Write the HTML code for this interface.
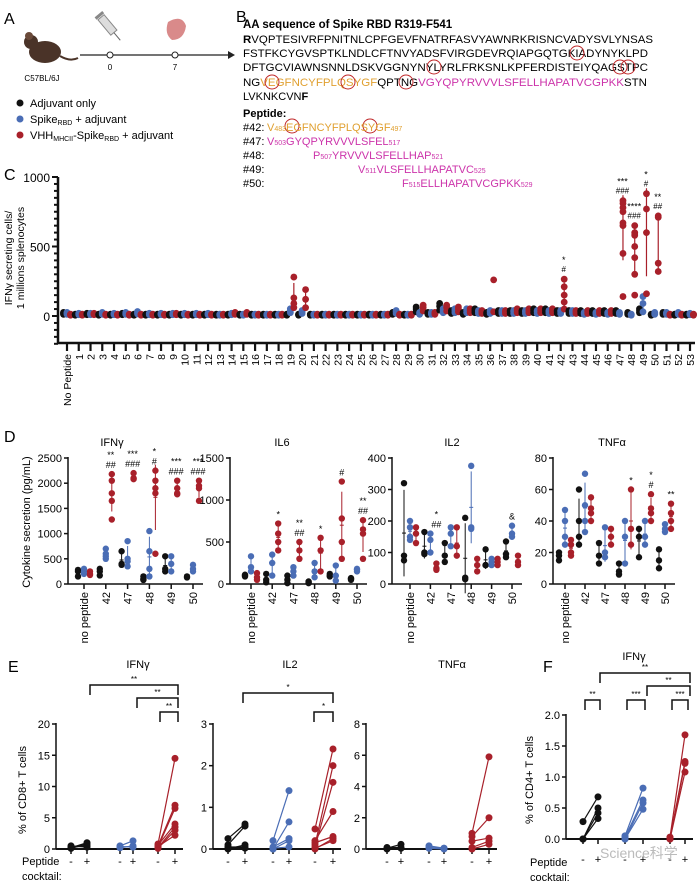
<!DOCTYPE html>
<html><head><meta charset="utf-8">
<style>
body{margin:0;background:#fff;}
svg{display:block;font-family:"Liberation Sans",Arial,sans-serif;}
</style></head>
<body>
<svg id="fig" width="700" height="884" viewBox="0 0 700 884" xmlns="http://www.w3.org/2000/svg">
<rect width="700" height="884" fill="#fff"/>
<!-- Panel A -->
<g>
<text x="4" y="24" font-size="16">A</text>
<g>
<ellipse cx="45" cy="52" rx="16" ry="11" fill="#4a3328"/>
<circle cx="31" cy="42" r="7" fill="#4a3328"/>
<circle cx="29" cy="36" r="4" fill="#6a4a3a"/>
<path d="M60 56 Q70 62 78 58" stroke="#4a3328" stroke-width="2" fill="none"/>
</g>
<text x="42" y="81" font-size="8" text-anchor="middle">C57BL/6J</text>
<line x1="80" y1="55" x2="228" y2="55" stroke="#222" stroke-width="1.2"/>
<path d="M228 51 L235 55 L228 59 Z" fill="#222"/>
<circle cx="110" cy="55" r="3" fill="#fff" stroke="#222"/>
<circle cx="175" cy="55" r="3" fill="#fff" stroke="#222"/>
<text x="110" y="70" font-size="8" text-anchor="middle">0</text>
<text x="175" y="70" font-size="8" text-anchor="middle">7</text>
<g transform="translate(110,28) rotate(-40)">
<rect x="-4" y="-14" width="8" height="20" fill="#ddd" stroke="#888"/>
<line x1="0" y1="6" x2="0" y2="16" stroke="#666"/>
<rect x="-5" y="-18" width="10" height="3" fill="#888"/>
</g>
<path d="M168 22 Q182 14 186 26 Q184 40 172 40 Q164 34 168 22Z" fill="#d98a8a"/>
<g font-size="11">
<circle cx="20" cy="103" r="3.5" fill="#111"/>
<text x="30" y="107">Adjuvant only</text>
<circle cx="20" cy="119" r="3.5" fill="#4a6db5"/>
<text x="30" y="123">Spike<tspan font-size="7" dy="2">RBD</tspan><tspan dy="-2"> + adjuvant</tspan></text>
<circle cx="20" cy="135" r="3.5" fill="#a8202a"/>
<text x="30" y="139">VHH<tspan font-size="7" dy="2">MHCII</tspan><tspan dy="-2">-Spike</tspan><tspan font-size="7" dy="2">RBD</tspan><tspan dy="-2"> + adjuvant</tspan></text>
</g>
</g>
<!-- Panel B -->
<g font-size="11">
<text x="236" y="22" font-size="16">B</text>
<text x="243" y="28" font-weight="bold" font-size="11.5">AA sequence of Spike RBD R319-F541</text>
<text x="243" y="43" textLength="410" lengthAdjust="spacingAndGlyphs"><tspan font-weight="bold">R</tspan>VQPTESIVRFPNITNLCPFGEVFNATRFASVYAWNRKRISNCVADYSVLYNSAS</text>
<text x="243" y="57" textLength="405" lengthAdjust="spacingAndGlyphs">FSTFKCYGVSPTKLNDLCFTNVYADSFVIRGDEVRQIAPGQTGKIADYNYKLPD</text>
<text x="243" y="71" textLength="405" lengthAdjust="spacingAndGlyphs">DFTGCVIAWNSNNLDSKVGGNYNYLYRLFRKSNLKPFERDISTEIYQAGSTPC</text>
<text x="243" y="86" textLength="404" lengthAdjust="spacingAndGlyphs">NG<tspan fill="#e0a030">VEGFNCYFPLQSYGF</tspan>QPTNG<tspan fill="#cc33aa">VGYQPYRVVVLSFELLHAPATVCGPKK</tspan>STN</text>
<text x="243" y="100">LVKNKCVN<tspan font-weight="bold">F</tspan></text>
<g fill="none" stroke="#c0282a" stroke-width="1">
<circle cx="577" cy="53" r="7"/><circle cx="434" cy="67" r="7"/><circle cx="620" cy="67" r="7"/><circle cx="628" cy="67" r="7"/>
<circle cx="272" cy="82" r="7"/><circle cx="348" cy="82" r="7"/><circle cx="406" cy="82" r="7"/>
<circle cx="292" cy="126" r="7"/><circle cx="370" cy="126" r="7"/>
</g>
<text x="243" y="117" font-weight="bold">Peptide:</text>
<text x="243" y="131">#42:</text>
<text x="267" y="131" fill="#e0a030">V<tspan font-size="7">483</tspan>EGFNCYFPLQSYGF<tspan font-size="7">497</tspan></text>
<text x="243" y="145">#47:</text>
<text x="267" y="145" fill="#cc33aa">V<tspan font-size="7">503</tspan>GYQPYRVVVLSFEL<tspan font-size="7">517</tspan></text>
<text x="243" y="159">#48:</text>
<text x="313" y="159" fill="#cc33aa">P<tspan font-size="7">507</tspan>YRVVVLSFELLHAP<tspan font-size="7">521</tspan></text>
<text x="243" y="173">#49:</text>
<text x="358" y="173" fill="#cc33aa">V<tspan font-size="7">511</tspan>VLSFELLHAPATVC<tspan font-size="7">525</tspan></text>
<text x="243" y="187">#50:</text>
<text x="402" y="187" fill="#cc33aa">F<tspan font-size="7">515</tspan>ELLHAPATVCGPKK<tspan font-size="7">529</tspan></text>
</g>
<g id="plots"></g>
</svg>
<script>
// ---------- DATA ----------
const cCategories = ["No Peptide"].concat(Array.from({length:53},(_,i)=>String(i+1)));
const cBlackBase = [20,10,15,10,10,15,10,10,10,10,10,10,10,10,10,10,10,10,10,10,10,10,10,10,10,10,10,10,20,10,50,20,70,30,20,40,20,30,30,30,40,40,30,30,30,30,30,30,20,40,10,20,10,10];
const cBlueBase  = [20,15,15,20,15,20,25,15,15,15,15,15,15,10,15,10,10,10,10,40,30,10,10,10,10,10,10,10,30,10,20,20,40,40,40,30,30,30,30,30,30,30,30,30,20,20,20,20,10,90,20,20,20,15];
const cRedBase   = [10,10,15,10,10,10,10,10,10,15,10,10,10,10,20,20,10,10,10,120,100,10,10,10,10,10,10,10,10,10,60,20,60,50,40,30,60,30,40,40,40,40,110,30,30,30,30,640,550,600,540,10,10,10];
const cRedPoints = {19:[280,130,90,60],20:[190,120,60],36:[260,30],42:[265,210,150,100,50],47:[830,810,780,750,670,650,450,140],48:[650,600,590,580,500,420,300,150],49:[880,770,600,160],50:[720,710,380,320]};
const cBluePoints = {49:[140,90,30]};
const cYTicks = [0,500,1000];
const cStars = {42:["*","#"],47:["***","###"],48:["****","###"],49:["*","#"],50:["**","##"]};

const dCategories = ["no peptide","42","47","48","49","50"];
const dIfngBlack = [[250,150,280],[300,250,170],[650,400,380],[150,100,80],[550,300,250],[150,130]];
const dIfngBlue  = [[300,250,200],[700,600,500,550],[850,500,450,350],[1050,650,300,150],[550,400,250],[380,300,250]];
const dIfngRed   = [[250,180,200],[2180,2050,1800,1650,1280],[2200,2100,2080],[2250,2050,1900,1800,600],[2050,1900,1800,1780],[2050,1950,1900,1650]];
const dIl6Black = [[100,90,110],[120,50,20],[100,50,10],[30,20,10],[120,100,90],[70,60,50]];
const dIl6Blue  = [[330,200,150],[350,250,100],[200,150,100],[250,150,80],[220,100,40],[180,170,150]];
const dIl6Red   = [[130,80,50],[720,600,500,400],[500,400,300],[550,400,150],[1220,780,500,300],[760,650,600,300]];
const dIl2Black = [[320,90,75],[165,100,95],[130,90,70],[210,20,15],[110,60,60],[135,95,85]];
const dIl2Blue  = [[200,180,150,140],[160,140,100],[180,160,120],[375,180,175],[80,70,60],[185,160,150]];
const dIl2Red   = [[180,160,130],[65,50,45],[180,120,90],[80,60,40],[80,70,60],[90,70,60]];
const dTnfBlack = [[20,18,15],[60,40,30,25],[26,18,13],[13,8,6],[35,30,17],[22,15,10]];
const dTnfBlue  = [[47,40,30,25],[70,50,40,33],[36,20,17],[40,30,13],[40,30,25],[38,35,33]];
const dTnfRed   = [[28,25,20,18],[55,48,45,40],[35,30,25],[60,35,25],[57,48,45,40],[51,45,40,35]];
const dIfngTicks = [0,500,1000,1500,2000,2500];
const dIl6Ticks = [0,500,1000,1500];
const dIl2Ticks = [0,100,200,300,400];
const dTnfTicks = [0,20,40,60,80];

const eIfngBlack = [[0.3,0.5],[0.1,0.8],[0.2,1.0],[0.5,0.3]];
const eIfngBlue  = [[0.5,1.3],[0.2,0.5],[0.4,0.3]];
const eIfngRed   = [[0.8,14.5],[0.5,7],[0.3,6.5],[0.6,4],[0.2,3.5],[0.1,3],[0.4,2.2]];
const eIl2Black = [[0.25,0.6],[0.1,0.55],[0.05,0.05],[0,0.1],[0.05,0.02]];
const eIl2Blue  = [[0.2,1.4],[0,0.65],[0.05,0.25],[0,0.2],[0.02,0.05]];
const eIl2Red   = [[0.48,2.4],[0.1,2.0],[0.05,1.6],[0.2,0.9],[0.15,0.3],[0,0.25],[0.02,0.2]];
const eTnfBlack = [[0.05,0.3],[0.1,0.1],[0,0.05]];
const eTnfBlue  = [[0.2,0.05],[0.1,0.05],[0.05,0]];
const eTnfRed   = [[1.0,5.9],[0.8,2.0],[0.5,0.7],[0.1,0.5],[0,0.3]];
const fIfngBlack = [[0.28,0.68],[0.0,0.5],[0.0,0.42],[0.0,0.33]];
const fIfngBlue  = [[0.05,0.82],[0.03,0.63],[0.0,0.58],[0.0,0.48]];
const fIfngRed   = [[0.03,1.68],[0.02,1.25],[0.0,1.22],[0.0,1.08]];
const eIfngTicks = [0,5,10,15,20];
const eIl2Ticks = [0,1,2,3];
const eTnfTicks = [0,2,4,6,8];
const fTicks = [0,0.5,1.0,1.5,2.0];
const fTickLabels = ["0.0","0.5","1.0","1.5","2.0"];

// ---------- DRAWING ----------
const NS="http://www.w3.org/2000/svg";
const root=document.getElementById('plots');
const COL={black:"#111",blue:"#4a6db5",red:"#a8202a"};
function mk(tag,attrs,name,parent){
  const el=document.createElementNS(NS,tag);
  for(const k in attrs) el.setAttribute(k,attrs[k]);
  
  
  (parent||root).appendChild(el);
  return el;
}
function txt(x,y,s,size,name,extra){
  const a=Object.assign({x:x,y:y,'font-size':size},extra||{});
  const t=mk('text',a,name);
  t.textContent=s;
  return t;
}
function dot(x,y,c,name,r){ return mk('circle',{cx:x,cy:y,r:r||3,fill:c},name); }
function line(x1,y1,x2,y2,w,c,name){ return mk('line',{x1:x1,y1:y1,x2:x2,y2:y2,stroke:c||"#111",'stroke-width':w||1},name); }
function meanSd(a){const m=a.reduce((s,v)=>s+v,0)/a.length;const sd=Math.sqrt(a.reduce((s,v)=>s+(v-m)*(v-m),0)/Math.max(1,a.length-1));return [m,sd];}

// ---- Panel C ----
txt(4,180,"C",16,"panel-c-label");
const cAxisX=58, cX0=67, cStep=(690-67)/53;
const yC=v=>316-v*0.139;
const cx=i=>cX0+i*cStep;
line(cAxisX,177,cAxisX,344,2.5,"#111","c-y-axis");
line(cAxisX,343,695,343,2.5,"#111","c-x-axis");
for(let v=-200; v<=1000; v+=50){ line(cAxisX-(v%500===0?6:4),yC(v),cAxisX,yC(v),2,"#111","c-y-minor-tick"); }
cYTicks.forEach(v=>{ txt(cAxisX-8,yC(v)+5,String(v),12,"c-y-tick-label",{'text-anchor':'end'}); });
const cyl=mk('text',{'font-size':10.5,'text-anchor':'middle',transform:'translate(12,258) rotate(-90)'},"c-y-axis-title");
cyl.textContent="IFNγ secreting cells/";
const cyl2=mk('text',{'font-size':10.5,'text-anchor':'middle',transform:'translate(24,258) rotate(-90)'},"c-y-axis-title-2");
cyl2.textContent="1 millions splenocytes";
cCategories.forEach((c,i)=>{
  const x=cx(i);
  line(x,343,x,351,2.2,"#111","c-x-tick");
  const t=mk('text',{'font-size':10.5,'text-anchor':'end',transform:`translate(${x+4},354) rotate(-90)`},"c-x-tick-label");
  t.textContent=c;
  const groups=[[cBlackBase[i],COL.black,-3.5,null],[cBlueBase[i],COL.blue,0,cBluePoints[i]],[cRedBase[i],COL.red,3.5,cRedPoints[i]]];
  groups.forEach(([v,col,off,pts])=>{
    const arr=pts||[v,v*0.6,v*1.3];
    if(pts&&pts.length>2){const [m,sd]=meanSd(pts);line(x+off,yC(m-sd),x+off,yC(m+sd),1.2,col,"c-error-bar");}
    arr.forEach(p=>dot(x+off,yC(p),col,"c-point",3.4));
  });
  if(cStars[i]){ const top=Math.max(...cRedPoints[i]); txt(x+3,yC(top)-16,cStars[i][0],9,"c-significance",{'text-anchor':'middle'}); txt(x+3,yC(top)-7,cStars[i][1],8,"c-significance",{'text-anchor':'middle'}); }
});

// ---- Panel D ----
txt(4,442,"D",16,"panel-d-label");
const dTop=458, dBot=584;
function dPanel(cfg){
  const y=v=>dBot-(v/cfg.max)*(dBot-dTop);
  txt(cfg.titleX,446,cfg.title,11,"d-title-"+cfg.key,{'text-anchor':'middle'});
  line(cfg.axis,dTop-1,cfg.axis,dBot,1.5,"#111","d-y-axis-"+cfg.key);
  const lastX=cfg.x0+5*cfg.step;
  line(cfg.axis,dBot,lastX+10,dBot,1.5,"#111","d-x-axis-"+cfg.key);
  cfg.ticks.forEach(v=>{ line(cfg.axis-4,y(v),cfg.axis,y(v),1.5,"#111","d-y-tick"); txt(cfg.axis-6,y(v)+4,String(v),11,"d-y-tick-label",{'text-anchor':'end'}); });
  dCategories.forEach((c,i)=>{
    const x=cfg.x0+i*cfg.step;
    line(x,dBot,x,dBot+5,1.5,"#111","d-x-tick");
    const t=mk('text',{'font-size':11,'text-anchor':'end',transform:`translate(${x+4},${dBot+8}) rotate(-90)`},"d-x-tick-label");
    t.textContent=c;
    [[cfg.black[i],COL.black,-6],[cfg.blue[i],COL.blue,0],[cfg.red[i],COL.red,6]].forEach(([pts,col,off])=>{
      const [m,sd]=meanSd(pts);
      line(x+off,y(m-sd),x+off,y(m+sd),1,col,"d-error-bar");
      line(x+off-2,y(m),x+off+2,y(m),1,col,"d-mean");
      pts.forEach(p=>dot(x+off,y(p),col,"d-point",3.2));
    });
  });
  (cfg.ann||[]).forEach(([i,off,lines])=>{
    const x=cfg.x0+i*cfg.step+off;
    const top=Math.max(...cfg.red[i],...cfg.blue[i]);
    lines.forEach((s,k)=>txt(x,y(top)-6-(lines.length-1-k)*10,s,9,"d-significance",{'text-anchor':'middle'}));
  });
}
dPanel({key:"ifng",title:"IFNγ",titleX:112,axis:68,x0:84,step:21.8,max:2500,ticks:dIfngTicks,black:dIfngBlack,blue:dIfngBlue,red:dIfngRed,
  ann:[[1,5,["**","##"]],[2,5,["***","###"]],[3,5,["*","#"]],[4,5,["***","###"]],[5,5,["***","###"]]]});
dPanel({key:"il6",title:"IL6",titleX:282,axis:230,x0:251,step:21.2,max:1500,ticks:dIl6Ticks,black:dIl6Black,blue:dIl6Blue,red:dIl6Red,
  ann:[[1,6,["*"]],[2,6,["**","##"]],[3,6,["*"]],[4,6,["#"]],[5,6,["**","##"]]]});
dPanel({key:"il2",title:"IL2",titleX:452,axis:392,x0:410,step:20.4,max:400,ticks:dIl2Ticks,black:dIl2Black,blue:dIl2Blue,red:dIl2Red,
  ann:[[1,6,["*","##"]],[5,0,["&"]]]});
dPanel({key:"tnf",title:"TNFα",titleX:612,axis:553,x0:565,step:20,max:80,ticks:dTnfTicks,black:dTnfBlack,blue:dTnfBlue,red:dTnfRed,
  ann:[[3,6,["*"]],[4,6,["*","#"]],[5,6,["**"]]]});
const dyl=mk('text',{'font-size':11,'text-anchor':'middle',transform:'translate(30,522) rotate(-90)'},"d-y-axis-title");
dyl.textContent="Cytokine secretion (pg/mL)";

// ---- Panel E / F ----
txt(8,672,"E",16,"panel-e-label");
txt(543,672,"F",16,"panel-f-label");
function ePanel(cfg){
  const y=v=>cfg.bot-(v/cfg.max)*(cfg.bot-cfg.top);
  txt(cfg.titleX,cfg.titleY,cfg.title,11,"e-title-"+cfg.key,{'text-anchor':'middle'});
  line(cfg.axis,cfg.top-1,cfg.axis,cfg.bot,1.5,"#111","e-y-axis-"+cfg.key);
  line(cfg.axis,cfg.bot,cfg.xs[5]+8,cfg.bot,2,"#111","e-x-axis-"+cfg.key);
  cfg.ticks.forEach((v,k)=>{ line(cfg.axis-4,y(v),cfg.axis,y(v),1.5,"#111","e-y-tick"); txt(cfg.axis-6,y(v)+4,cfg.labels?cfg.labels[k]:String(v),11,"e-y-tick-label",{'text-anchor':'end'}); });
  [[cfg.black,COL.black,0],[cfg.blue,COL.blue,2],[cfg.red,COL.red,4]].forEach(([pairs,col,j])=>{
    const x1=cfg.xs[j], x2=cfg.xs[j+1];
    line(x1,cfg.bot,x1,cfg.bot+5,1.5,"#111","e-x-tick");
    line(x2,cfg.bot,x2,cfg.bot+5,1.5,"#111","e-x-tick");
    txt(x1,cfg.bot+cfg.signDy,"-",11,"e-minus-label",{'text-anchor':'middle'});
    txt(x2,cfg.bot+cfg.signDy,"+",11,"e-plus-label",{'text-anchor':'middle'});
    pairs.forEach(([a,b])=>{
      line(x1,y(a),x2,y(b),1.2,col,"e-pair-line");
      dot(x1,y(a),col,"e-point",3.5);
      dot(x2,y(b),col,"e-point",3.5);
    });
  });
  (cfg.brackets||[]).forEach(([a,b,yy,s])=>{
    mk('path',{d:`M${a} ${yy+10} L${a} ${yy} L${b} ${yy} L${b} ${yy+10}`,fill:"none",stroke:"#111",'stroke-width':1.5},"e-significance-bracket");
    txt((a+b)/2,yy-3,s,8,"e-significance-label",{'text-anchor':'middle'});
  });
}
ePanel({key:"ifng",title:"IFNγ",titleX:138,titleY:668,axis:56,top:724,bot:849,max:20,ticks:eIfngTicks,xs:[71,87,120,133,158,175],signDy:16,
  black:eIfngBlack,blue:eIfngBlue,red:eIfngRed,brackets:[[90,178,685,"**"],[137,178,698,"**"],[160,178,712,"**"]]});
ePanel({key:"il2",title:"IL2",titleX:290,titleY:668,axis:213,top:724,bot:849,max:3,ticks:eIl2Ticks,xs:[228,245,273,289,315,333],signDy:16,
  black:eIl2Black,blue:eIl2Blue,red:eIl2Red,brackets:[[243,333,693,"*"],[314,333,712,"*"]]});
ePanel({key:"tnf",title:"TNFα",titleX:452,titleY:668,axis:366,top:724,bot:849,max:8,ticks:eTnfTicks,xs:[387,401,429,444,472,489],signDy:16,
  black:eTnfBlack,blue:eTnfBlue,red:eTnfRed});
ePanel({key:"f-ifng",title:"IFNγ",titleX:634,titleY:660,axis:566,top:715,bot:839,max:2,ticks:fTicks,labels:fTickLabels,xs:[583,598,625,643,670,685],signDy:24,
  black:fIfngBlack,blue:fIfngBlue,red:fIfngRed,brackets:[[600,690,673,"**"],[647,690,686,"**"],[585,600,700,"**"],[627,645,700,"***"],[672,688,700,"***"]]});
const eyl=mk('text',{'font-size':11,'text-anchor':'middle',transform:'translate(26,790) rotate(-90)'},"e-y-axis-title");
eyl.textContent="% of CD8+ T cells";
const fyl=mk('text',{'font-size':11,'text-anchor':'middle',transform:'translate(533,780) rotate(-90)'},"f-y-axis-title");
fyl.textContent="% of CD4+ T cells";
txt(22,865,"Peptide",11,"e-peptide-label");
txt(22,880,"cocktail:",11,"e-cocktail-label");
txt(530,866,"Peptide",11,"f-peptide-label");
txt(530,881,"cocktail:",11,"f-cocktail-label");
txt(600,858,"Science科学",14,"watermark",{fill:"#bbb","font-family":"Liberation Sans, Noto Sans CJK SC, sans-serif"});
</script>
</body></html>
